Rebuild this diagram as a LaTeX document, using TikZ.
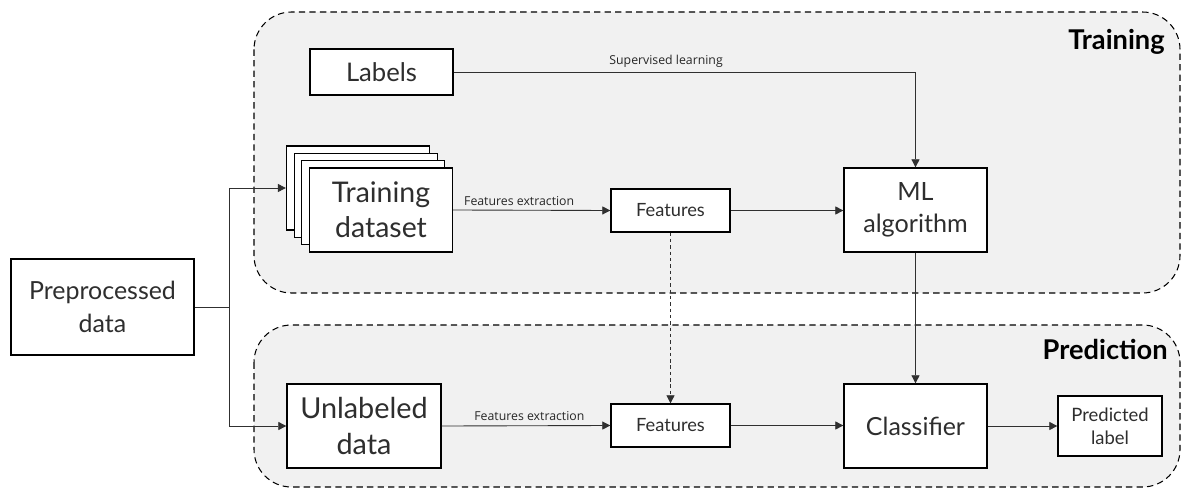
\documentclass[tikz,border=0pt]{standalone}
\usepackage{fontspec}
\setmainfont{Lato}
\newfontfamily\smallfont{Open Sans}
\usetikzlibrary{arrows.meta}
\definecolor{panelgray}{HTML}{F1F1F1}
\definecolor{linegray}{HTML}{303030}
\tikzset{
  panel/.style={draw=black, fill=panelgray, dashed, dash pattern=on 3.6pt off 2.4pt,
    line width=0.6pt, rounded corners=0.75cm},
  box/.style={draw=black, fill=white, line width=0.75pt, inner sep=0pt,
    align=center, text=black!82},
  conn/.style={draw=linegray, line width=0.5pt, -{Triangle[length=4.6pt,width=4.6pt]}},
  plain/.style={draw=linegray, line width=0.5pt},
  edgelabel/.style={font=\smallfont\fontsize{7}{8}\selectfont, inner sep=2.5pt, text=black!85},
  paneltitle/.style={font=\bfseries\fontsize{15.5}{17}\selectfont, inner sep=0pt},
}
\begin{document}
\begin{tikzpicture}[x=0.02cm, y=-0.02cm]
  \useasboundingbox (0,0) rectangle (1182,493);

  % training and prediction panels
  \draw[panel] (254,12) rectangle (1180,293);
  \draw[panel] (254,325) rectangle (1180,487);
  \node[paneltitle, anchor=base east] (ttitle) at (1165,50) {Training};
  \node[paneltitle, anchor=base east] (ptitle) at (1168,359) {Prediction};

  % input
  \node[box, minimum width=3.66cm, minimum height=1.92cm,
        font=\fontsize{14.2}{19}\selectfont] (pre) at (102.5,307) {Preprocessed\\data};

  % training branch
  \node[box, minimum width=2.86cm, minimum height=0.92cm,
        font=\fontsize{14.6}{18}\selectfont] (labels) at (381.5,72) {Labels};
  \node[box, minimum width=2.86cm, minimum height=1.68cm] (ds1) at (358,188) {};
  \node[box, minimum width=2.86cm, minimum height=1.68cm] (ds2) at (365.7,195.3) {};
  \node[box, minimum width=2.86cm, minimum height=1.68cm] (ds3) at (373.3,202.7) {};
  \node[box, minimum width=2.86cm, minimum height=1.68cm,
        font=\fontsize{16.2}{20}\selectfont] (ds4) at (381,210) {Training\\dataset};
  \node[box, minimum width=2.38cm, minimum height=0.86cm,
        font=\fontsize{10.4}{13}\selectfont] (feat1) at (670.5,210.5) {Features};
  \node[box, minimum width=2.86cm, minimum height=1.68cm,
        font=\fontsize{14.3}{18}\selectfont] (ml) at (915.5,210) {ML\\algorithm};

  % prediction branch
  \node[box, minimum width=3.08cm, minimum height=1.68cm,
        font=\fontsize{16.4}{20}\selectfont] (unl) at (364,426) {Unlabeled\\data};
  \node[box, minimum width=2.38cm, minimum height=0.86cm,
        font=\fontsize{10.4}{13}\selectfont] (feat2) at (670.5,425.5) {Features};
  \node[box, minimum width=2.86cm, minimum height=1.68cm,
        font=\fontsize{14.2}{18}\selectfont] (clf) at (915.5,426) {Classifier};
  \node[box, minimum width=2.08cm, minimum height=1.2cm,
        font=\fontsize{10.5}{13}\selectfont] (pred) at (1110,426) {Predicted\\label};

  % split of the input
  \coordinate (split) at (229,307);
  \draw[plain] (pre.east) -- (split);
  \draw[conn] (split) |- (ds1.west);
  \draw[conn] (split) |- (unl.west);

  % training connectors
  \draw[conn] (labels.east) -| node[edgelabel, above, pos=0.23] {Supervised learning} (ml.north);
  \draw[conn] (ds4.east) -- node[edgelabel, above, pos=0.42] {Features extraction} (feat1.west);
  \draw[conn] (feat1.east) -- (feat1.east -| ml.west);
  \draw[conn] (ml.south) -- (clf.north);
  \draw[draw=linegray, line width=0.45pt, dashed, dash pattern=on 2pt off 1.6pt,
        -{Triangle[length=4.6pt,width=4.6pt]}] (feat1.south) -- (feat2.north);

  % prediction connectors
  \draw[conn] (unl.east) -- node[edgelabel, above, pos=0.52] {Features extraction} (feat2.west);
  \draw[conn] (feat2.east) -- (feat2.east -| clf.west);
  \draw[conn] (clf.east) -- (pred.west);
\end{tikzpicture}
\end{document}
